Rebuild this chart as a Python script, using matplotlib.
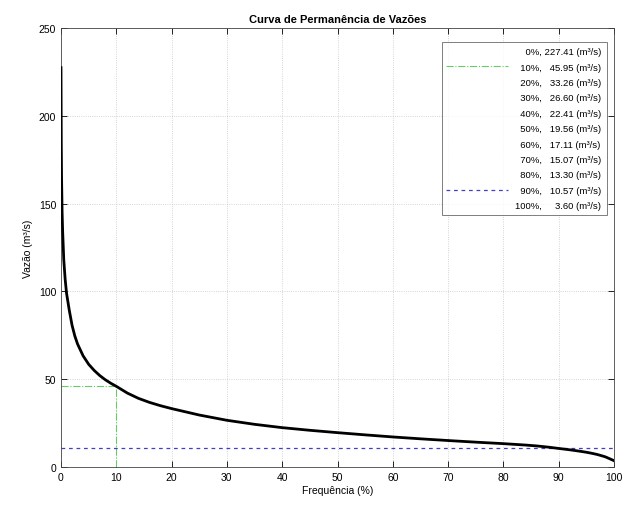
import matplotlib
matplotlib.use("Agg")
import matplotlib.pyplot as plt
from matplotlib.lines import Line2D

plt.rcParams['font.family'] = ['Liberation Sans', 'DejaVu Sans']

# Flow duration curve
freq = [0, 0.05, 0.1, 0.2, 0.3, 0.4, 0.5, 0.75, 1.0, 1.5, 2, 2.5, 3, 4, 5, 6,
        7, 8, 9, 10, 12, 14, 16, 18, 20, 25, 30, 35, 40, 45, 50, 55, 60, 65,
        70, 75, 80, 82, 84, 86, 88, 90, 92, 94, 95, 96, 97, 98, 98.5, 99,
        99.5, 100]
flow = [227.41, 185, 165, 145, 134, 126, 118, 107, 99, 89.2, 80.7, 74.6,
        70.0, 63.3, 58.5, 55.0, 52.1, 49.7, 47.7, 45.95, 42.1, 39.1, 36.8,
        34.9, 33.26, 29.6, 26.60, 24.3, 22.41, 20.9, 19.56, 18.3, 17.11,
        16.05, 15.07, 14.15, 13.30, 12.9, 12.5, 12.0, 11.35, 10.57, 9.8, 8.9,
        8.4, 7.8, 7.1, 6.2, 5.7, 5.0, 4.3, 3.60]

# Legend table
pct = [0, 10, 20, 30, 40, 50, 60, 70, 80, 90, 100]
q_pct = [227.41, 45.95, 33.26, 26.60, 22.41, 19.56, 17.11, 15.07, 13.30, 10.57, 3.60]

q10 = 45.95
q90 = 10.57

xticks = [0, 10, 20, 30, 40, 50, 60, 70, 80, 90, 100]
yticks = [0, 50, 100, 150, 200, 250]

fig = plt.figure(figsize=(6.24, 5.10), dpi=100)
ax = fig.add_axes([61/624, 42/510, 553/624, 439/510])

ax.plot(freq, flow, color='black', lw=2.0, zorder=3, solid_joinstyle='round')
g_color = '#66cc66'
b_color = '#4040c0'
ax.plot([0, 10], [q10, q10], color=g_color, ls='-.', lw=0.8, zorder=2)
ax.plot([10, 10], [0, q10], color=g_color, ls='-.', lw=0.8, zorder=2)
ax.plot([0, 100], [q90, q90], color=b_color, ls='--', lw=0.9, dashes=(3, 3), zorder=2)

ax.set_xlim(0, 100)
ax.set_ylim(0, 250)
ax.set_xticks(xticks)
ax.set_yticks(yticks)
ax.tick_params(direction='in', length=4, labelsize=7.5, top=True, right=True, width=0.6)
ax.grid(True, ls=':', color='#c8c8c8', lw=0.6)
for s in ax.spines.values():
    s.set_linewidth(0.6)
    s.set_color('#444444')

ax.set_title('Curva de Permanência de Vazões', fontsize=8, fontweight='bold', pad=4)
ax.set_xlabel('Frequência (%)', fontsize=7.5, labelpad=2)
ax.set_ylabel('Vazão (m³/s)', fontsize=7.5, labelpad=4)

handles = []
labels = []
fs = '\u2007'
for p, q in zip(pct, q_pct):
    ps = f'{p}%'
    ps = fs * (4 - len(ps)) + ps
    qs = f'{q:.2f}'
    qs = fs * (6 - len(qs)) + qs
    labels.append(f'{ps}, {qs} (m³/s)')
    if p == 10:
        handles.append(Line2D([], [], color=g_color, ls='-.', lw=0.8))
    elif p == 90:
        handles.append(Line2D([], [], color=b_color, ls='--', lw=0.9, dashes=(3, 3)))
    else:
        handles.append(Line2D([], [], color='none'))

leg = ax.legend(handles, labels, loc='upper right', fontsize=6.8, frameon=True,
                fancybox=False, edgecolor='#444444', handlelength=6.5,
                labelspacing=0.68, borderpad=0.5, bbox_to_anchor=(0.995, 0.978))
leg.get_frame().set_linewidth(0.6)

fig.savefig('out.png', dpi=100)
